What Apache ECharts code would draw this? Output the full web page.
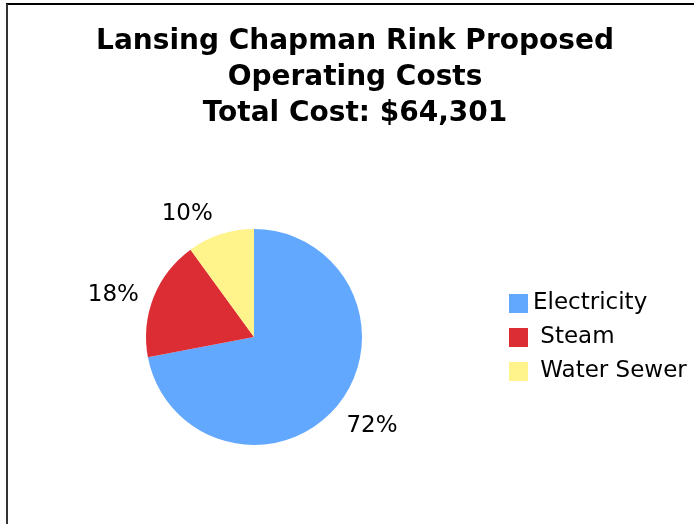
<!DOCTYPE html>
<html>
<head>
<meta charset="utf-8">
<script src="https://cdn.jsdelivr.net/npm/echarts@6/dist/echarts.min.js"></script>
<style>
  html, body { margin: 0; padding: 0; background: #fff; }
  #chart { width: 694px; height: 524px; }
</style>
</head>
<body>
<div id="chart"></div>
<script>
// Cost categories and their share of the total (percent)
const categories = ['Electricity', ' Steam', ' Water Sewer'];
const shares = [72, 18, 10];
const colors = ['#62a8ff', '#dc2d34', '#fff38c'];
const titleLines = ['Lansing Chapman Rink Proposed', 'Operating Costs', 'Total Cost: $64,301'];

// nudges for the percentage labels so they sit snug against the pie
const labelNudges = [[4, -5], [-3, 13], [-21, 18]];

const font = 'Verdana, "DejaVu Sans", sans-serif';
const center = [254, 337];

const pieData = categories.map((name, i) => ({ name, value: shares[i], itemStyle: { color: colors[i] } }));
const labelData = categories.map((name, i) => ({
  name, value: shares[i], label: { offset: labelNudges[i] }
}));

const chart = echarts.init(document.getElementById('chart'));
chart.setOption({
  backgroundColor: '#fff',
  animation: false,
  graphic: [
    // frame lines
    { type: 'line', shape: { x1: 6, y1: 4, x2: 694, y2: 4 }, style: { stroke: '#000', lineWidth: 2 } },
    { type: 'line', shape: { x1: 7, y1: 4, x2: 7, y2: 524 }, style: { stroke: '#333', lineWidth: 2 } },
    {
      type: 'text', x: 355, y: 24,
      style: {
        text: titleLines.join('\n'), fill: '#000',
        font: 'bold 28px ' + font, lineHeight: 36,
        align: 'center', verticalAlign: 'top'
      }
    }
  ],
  legend: {
    orient: 'vertical',
    left: 509, top: 292,
    padding: 0,
    itemWidth: 19, itemHeight: 19, itemGap: 11,
    icon: 'rect',
    textStyle: { fontFamily: font, fontSize: 23, color: '#000' },
    data: categories.map((name, i) => ({ name, itemStyle: { color: colors[i] } }))
  },
  series: [
    {
      type: 'pie',
      center: center,
      radius: 108,
      startAngle: 90,
      clockwise: true,
      label: { show: false },
      labelLine: { show: false },
      itemStyle: { borderWidth: 0 },
      silent: true,
      data: pieData
    },
    {
      // transparent ring carrying the percentage labels outside the pie
      type: 'pie',
      center: center,
      radius: [130, 160],
      startAngle: 90,
      clockwise: true,
      silent: true,
      itemStyle: { color: 'rgba(0,0,0,0)', borderWidth: 0 },
      label: {
        show: true, position: 'inside', formatter: '{d}%',
        fontFamily: font, fontSize: 23, color: '#000'
      },
      labelLine: { show: false },
      data: labelData
    }
  ]
});
</script>
</body>
</html>
